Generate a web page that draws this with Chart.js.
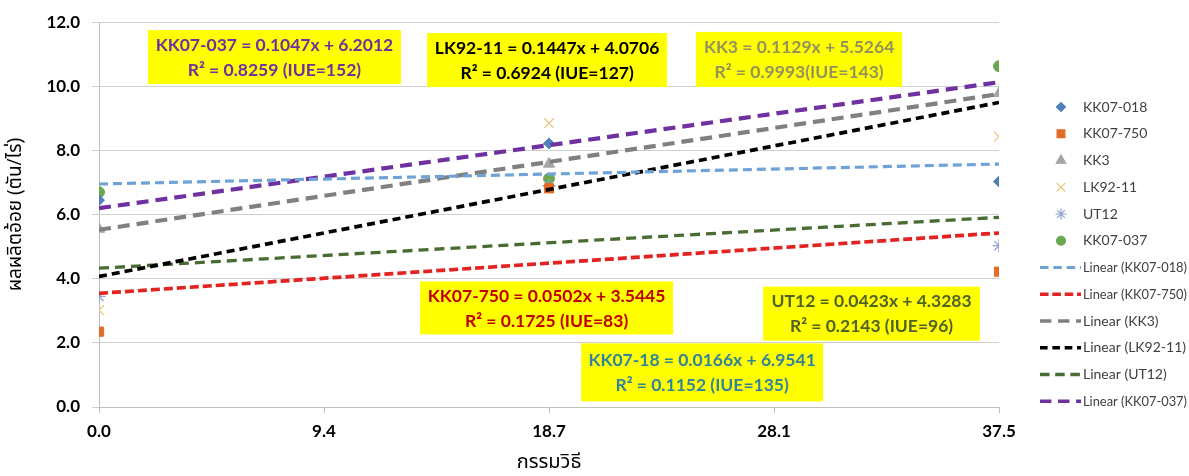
<!DOCTYPE html>
<html>
<head>
<meta charset="utf-8">
<script src="https://cdn.jsdelivr.net/npm/chart.js@4.4.1/dist/chart.umd.min.js"></script>
<style>
  body { margin: 0; background: #fff; }
  #wrap { width: 1189px; height: 476px; position: relative; }
</style>
</head>
<body>
<div id="wrap"><canvas id="chart"></canvas></div>
<script>
// values
const xValues = [0, 18.75, 37.5];
const kk07_018 = [6.45, 8.22, 7.03];
const kk07_750 = [2.35, 6.82, 4.22];
const kk3 = [5.55, 7.58, 9.78];
const lk92_11 = [3.02, 8.85, 8.43];
const ut12 = [3.45, 6.90, 5.03];
const kk07_037 = [6.70, 7.12, 10.63];

const seriesNames = ['KK07-018', 'KK07-750', 'KK3', 'LK92-11', 'UT12', 'KK07-037'];
const seriesValues = [kk07_018, kk07_750, kk3, lk92_11, ut12, kk07_037];

// trendline coefficients from the equations on the chart
const slopes = [0.0166, 0.0502, 0.1129, 0.1447, 0.0423, 0.1047];
const intercepts = [6.9541, 3.5445, 5.5264, 4.0706, 4.3283, 6.2012];

const xTickValues = [0, 9.375, 18.75, 28.125, 37.5];
const xTickLabels = ['0.0', '9.4', '18.7', '28.1', '37.5'];

const eqLine1 = ['KK07-18 = 0.0166x + 6.9541', 'KK07-750 = 0.0502x + 3.5445', 'KK3 = 0.1129x + 5.5264',
                 'LK92-11 = 0.1447x + 4.0706', 'UT12 = 0.0423x + 4.3283', 'KK07-037 = 0.1047x + 6.2012'];
const eqLine2 = ['R² = 0.1152 (IUE=135)', 'R² = 0.1725 (IUE=83)', 'R² = 0.9993(IUE=143)',
                 'R² = 0.6924 (IUE=127)', 'R² = 0.2143 (IUE=96)', 'R² = 0.8259 (IUE=152)'];

// styles
const markerStyle = [
  { style: 'rectRot', color: '#4F81BD', r: 5.5 },
  { style: 'rect', color: '#E46C2A', r: 6.5 },
  { style: 'triangle', color: '#A5A5A5', r: 6.5 },
  { style: 'crossRot', color: '#EBC77F', r: 7 },
  { style: 'star', color: '#8EA4CF', r: 6.5 },
  { style: 'circle', color: '#6AA84F', r: 5.5 },
];
const trendStyle = [
  { color: '#6FA3D6', width: 3.2, dash: [9, 5] },
  { color: '#E32222', width: 3.7, dash: [9, 4] },
  { color: '#808080', width: 4.2, dash: [12, 7] },
  { color: '#000000', width: 3.7, dash: [8, 5] },
  { color: '#4A6B32', width: 3.3, dash: [10, 6] },
  { color: '#7030A0', width: 4.2, dash: [12, 7] },
];
// box centre in axis units, size in px
const eqBoxes = [
  { x: 25.13, y: 1.08, w: 242, h: 58, color: '#31849B' },
  { x: 18.65, y: 3.09, w: 253, h: 53, color: '#C00000' },
  { x: 29.17, y: 10.84, w: 206, h: 55, color: '#93935A' },
  { x: 18.67, y: 10.82, w: 240, h: 54, color: '#000000' },
  { x: 32.19, y: 2.91, w: 217, h: 54, color: '#4F6228' },
  { x: 7.31, y: 10.91, w: 253, h: 54, color: '#7030A0' },
];

const FONT = 'Lato, "Noto Sans", sans-serif';
const THAI = '"Noto Sans Thai", "Noto Sans", Lato, sans-serif';

const datasets = [];
seriesNames.forEach((name, i) => {
  datasets.push({
    label: 'Linear (' + name + ')',
    data: [{ x: 0, y: intercepts[i] }, { x: 37.5, y: intercepts[i] + slopes[i] * 37.5 }],
    showLine: true, pointRadius: 0, borderColor: trendStyle[i].color,
    borderWidth: trendStyle[i].width, borderDash: trendStyle[i].dash, order: 1
  });
});
seriesNames.forEach((name, i) => {
  datasets.push({
    label: name,
    data: xValues.map((x, j) => ({ x: x, y: seriesValues[i][j] })),
    showLine: false, pointStyle: markerStyle[i].style, pointRadius: markerStyle[i].r,
    backgroundColor: markerStyle[i].color, borderColor: markerStyle[i].color,
    pointBorderWidth: markerStyle[i].style.includes('cross') || markerStyle[i].style === 'star' ? 1.3 : 1,
    order: 2
  });
});

const eqPlugin = {
  id: 'eqBoxes',
  afterDatasetsDraw(chart) {
    const { ctx, scales } = chart;
    ctx.save();
    eqBoxes.forEach((b, i) => {
      const cx = scales.x.getPixelForValue(b.x), cy = scales.y.getPixelForValue(b.y);
      ctx.fillStyle = '#FFFF00';
      ctx.fillRect(cx - b.w / 2, cy - b.h / 2, b.w, b.h);
      ctx.fillStyle = b.color;
      ctx.font = 'bold 17.5px ' + FONT;
      ctx.textAlign = 'center';
      ctx.textBaseline = 'middle';
      ctx.fillText(eqLine1[i], cx, cy - 12);
      ctx.fillText(eqLine2[i], cx, cy + 13);
    });
    ctx.restore();
  }
};

const legendPlugin = {
  id: 'sideLegend',
  afterDraw(chart) {
    const { ctx } = chart;
    const top = 107, step = 26.75, markX = 1061, textX = 1083;
    ctx.save();
    ctx.font = '14px ' + FONT;
    ctx.textBaseline = 'middle';
    ctx.textAlign = 'left';
    seriesNames.forEach((name, i) => {
      const y = top + i * step, m = markerStyle[i];
      ctx.fillStyle = m.color; ctx.strokeStyle = m.color; ctx.lineWidth = 1.2;
      Chart.helpers.drawPoint(ctx, { pointStyle: m.style, radius: m.r - 1, borderWidth: 1.2 }, markX, y);
      ctx.fillStyle = '#404040';
      ctx.fillText(name, textX, y, 104);
    });
    seriesNames.forEach((name, i) => {
      const y = top + (i + 6) * step, t = trendStyle[i];
      ctx.strokeStyle = t.color; ctx.lineWidth = Math.min(t.width, 3.5);
      ctx.setLineDash(t.dash.map(d => d * 0.95));
      ctx.beginPath(); ctx.moveTo(1040, y); ctx.lineTo(1081, y); ctx.stroke();
      ctx.setLineDash([]);
      ctx.fillStyle = '#404040';
      ctx.fillText('Linear (' + name + ')', textX, y, 104);
    });
    ctx.restore();
  }
};

new Chart(document.getElementById('chart'), {
  type: 'scatter',
  data: { datasets: datasets },
  options: {
    responsive: true, maintainAspectRatio: false, animation: false,
    layout: { padding: { top: 20, right: 190, left: 0, bottom: 0 } },
    plugins: { legend: { display: false }, tooltip: { enabled: false } },
    scales: {
      x: {
        type: 'linear', min: 0, max: 37.5,
        afterBuildTicks: s => { s.ticks = xTickValues.map(v => ({ value: v })); },
        afterFit: s => { s.height = 69; },
        ticks: { callback: (v, i) => xTickLabels[i], color: '#000', font: { family: FONT, size: 17, weight: 'bold' }, padding: 8, maxRotation: 0 },
        grid: { drawOnChartArea: false, drawTicks: true, tickLength: 6, color: '#BFBFBF' },
        border: { color: '#BFBFBF' },
        title: { display: true, text: 'กรรมวิธี', color: '#000', font: { family: THAI, size: 20 }, padding: { top: 0, bottom: 0 } }
      },
      y: {
        min: 0, max: 12,
        afterFit: s => { s.width = 99; },
        ticks: { stepSize: 2, callback: v => v.toFixed(1), color: '#000', font: { family: FONT, size: 17, weight: 'bold' }, padding: 12 },
        grid: { color: '#CFCFCF', tickLength: 7 },
        border: { color: '#BFBFBF' },
        title: { display: true, text: 'ผลผลิตอ้อย (ตัน/ไร่)', color: '#000', font: { family: THAI, size: 19 }, padding: { top: 6, bottom: 0 } }
      }
    }
  },
  plugins: [eqPlugin, legendPlugin]
});
</script>
</body>
</html>
